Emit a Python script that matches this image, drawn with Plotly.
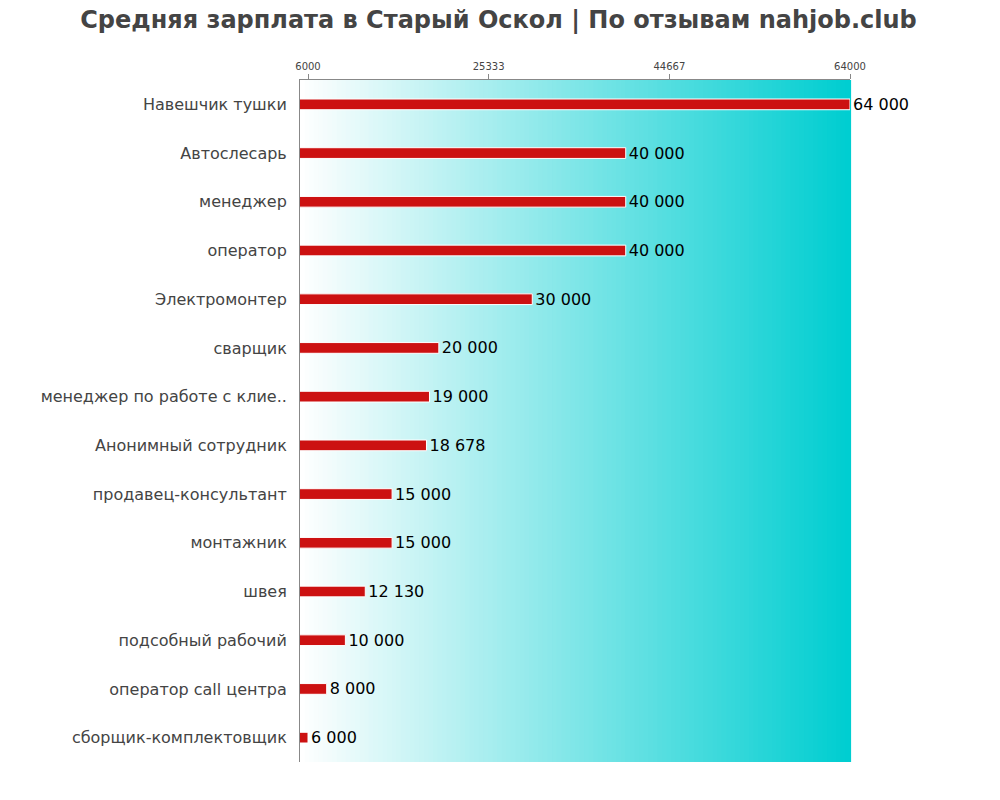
import plotly.graph_objects as go

# Data
jobs = ["Навешчик тушки", "Автослесарь", "менеджер", "оператор", "Электромонтер",
        "сварщик", "менеджер по работе с клие..", "Анонимный сотрудник",
        "продавец-консультант", "монтажник", "швея", "подсобный рабочий",
        "оператор call центра", "сборщик-комплектовщик"]
salaries = [64000, 40000, 40000, 40000, 30000, 20000, 19000, 18678,
            15000, 15000, 12130, 10000, 8000, 6000]
tick_vals = [6000, 25333, 44667, 64000]

labels = [f"{v:,}".replace(",", " ") for v in salaries]

fig = go.Figure(go.Bar(
    x=salaries, y=jobs, orientation="h",
    marker=dict(color="#cc1111", line=dict(color="white", width=1)),
    width=0.22,
    text=labels, textposition="outside", cliponaxis=False,
    constraintext="none",
    textfont=dict(size=16, color="black", family="DejaVu Sans"),
))

# gradient background: white -> dark turquoise
shapes = []
n = 120
for i in range(n):
    t = i / (n - 1)
    r = int(255 + (0 - 255) * t)
    g = int(255 + (206 - 255) * t)
    b = int(255 + (209 - 255) * t)
    shapes.append(dict(type="rect", xref="paper", yref="paper",
                       x0=i / n, x1=(i + 1) / n + 0.002, y0=0, y1=1,
                       fillcolor=f"rgb({r},{g},{b})", line=dict(width=0),
                       layer="below"))

fig.update_layout(
    width=1000, height=800,
    title=dict(text="<b>Средняя зарплата в Старый Оскол | По отзывам nahjob.club</b>",
               x=0.4905, y=0.986, xanchor="center", yanchor="middle",
               font=dict(size=24, color="#444444", family="DejaVu Sans")),
    margin=dict(l=292, r=158, t=72, b=46),
    plot_bgcolor="white", paper_bgcolor="white",
    shapes=shapes,
    showlegend=False,
    bargap=0.78,
    xaxis=dict(side="top", range=[5144, 64000], tickvals=tick_vals,
               ticktext=[str(v) for v in tick_vals], automargin=False,
               tickfont=dict(size=10, color="#444444", family="DejaVu Sans"),
               ticks="outside", ticklen=5, tickcolor="#888888",
               showgrid=False, zeroline=False,
               showline=True, linecolor="#888888", linewidth=1),
    yaxis=dict(autorange="reversed", automargin=False,
               tickfont=dict(size=16, color="#444444", family="DejaVu Sans"),
               ticks="", ticklabelstandoff=9,
               showline=True, linecolor="#888888", linewidth=1,
               showgrid=False),
)

fig.write_html("out.html")
